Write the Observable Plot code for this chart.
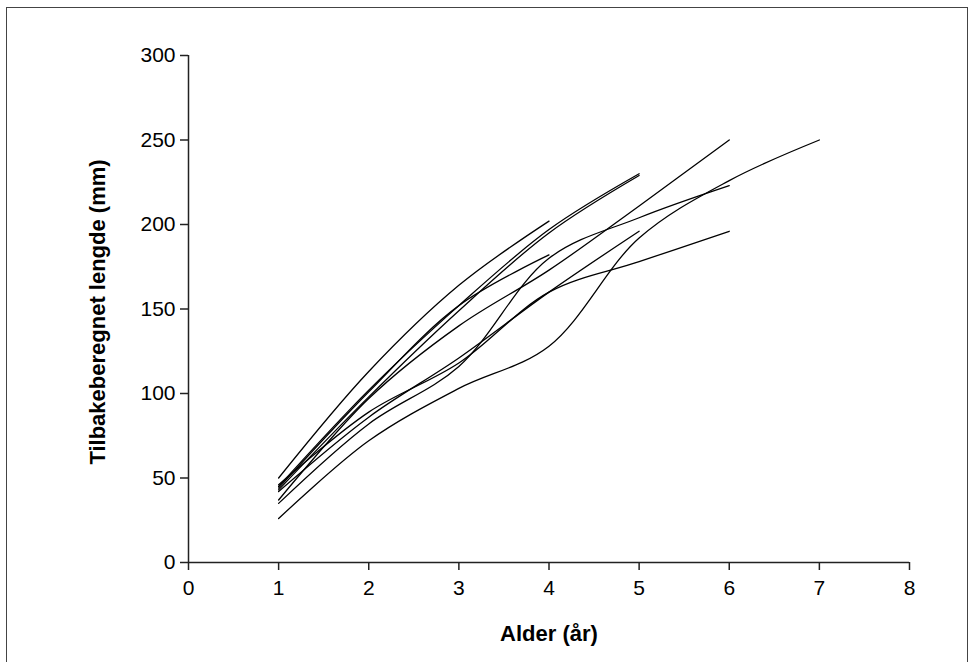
<!DOCTYPE html>
<html>
<head>
<meta charset="utf-8">
<script src="https://cdn.jsdelivr.net/npm/d3@7"></script>
<script src="https://cdn.jsdelivr.net/npm/@observablehq/plot@0.6"></script>
<style>
  html, body { margin: 0; padding: 0; background: #fff; }
  #wrap { position: relative; width: 976px; height: 662px; overflow: hidden; }
  #border { position: absolute; left: 6px; top: 7px; width: 962px; height: 720px; border: 1.5px solid #444; box-sizing: border-box; pointer-events: none; }
  #chart { position: absolute; left: 0; top: 0; }
  #chart g[aria-label$="tick label"] text { font-size: 21px !important; }
</style>
</head>
<body>
<div id="wrap"><div id="chart"></div><div id="border"></div></div>
<script>
// Ages (x) and back-calculated lengths (mm) per fish
const ages = [1, 2, 3, 4, 5, 6, 7];
const fishA = [50, 113, 164, 202];
const fishB = [44, 101, 152, 182];
const fishC = [45, 102, 152, 197, 230];
const fishD = [43, 98, 149, 195, 229];
const fishE = [42, 86, 121, 160, 196];
const fishF = [37, 97, 140, 173, 211, 250];
const fishG = [35, 82, 116, 180, 204, 223];
const fishH = [46, 89, 118, 160, 178, 196];
const fishI = [26, 72, 103, 128, 192, 226, 250];
const series = [fishA, fishB, fishC, fishD, fishE, fishF, fishG, fishH, fishI];

const xTicks = [0, 1, 2, 3, 4, 5, 6, 7, 8];
const yTicks = [0, 50, 100, 150, 200, 250, 300];
const xLabel = "Alder (år)";
const yLabel = "Tilbakeberegnet lengde (mm)";

const rows = series.flatMap((s, i) => s.map((v, j) => ({fish: i, age: ages[j], len: v})));

const chart = Plot.plot({
  width: 976,
  height: 662,
  marginLeft: 188,
  marginRight: 67,
  marginTop: 55,
  marginBottom: 100,
  style: {fontFamily: "'Liberation Sans', Arial, sans-serif", fontSize: "21px", color: "#000", background: "transparent"},
  x: {domain: [0, 8]},
  y: {domain: [0, 300]},
  marks: [
    Plot.axisX({ticks: xTicks, tickSize: 8, tickPadding: 10, label: null, stroke: "#222", strokeWidth: 1.5, fontSize: 21}),
    Plot.axisY({ticks: yTicks, tickSize: 8, tickPadding: 5, label: null, stroke: "#222", strokeWidth: 1.5, fontSize: 21}),
    Plot.ruleX([0], {stroke: "#222", strokeWidth: 1.5}),
    Plot.ruleY([0], {stroke: "#222", strokeWidth: 1.5}),
    Plot.line(rows, {x: "age", y: "len", z: "fish", curve: "catmull-rom", stroke: "#000", strokeWidth: 1.3}),
    Plot.text([xLabel], {frameAnchor: "bottom", dy: 71, text: d => d, fontWeight: "bold", fontSize: 22, textAnchor: "middle", lineAnchor: "middle", fill: "#000"}),
    Plot.text([yLabel], {frameAnchor: "left", dx: -91, dy: 3, rotate: -90, text: d => d, fontWeight: "bold", fontSize: 22, textAnchor: "middle", lineAnchor: "middle", fill: "#000"})
  ]
});
document.getElementById("chart").appendChild(chart);
</script>
</body>
</html>
